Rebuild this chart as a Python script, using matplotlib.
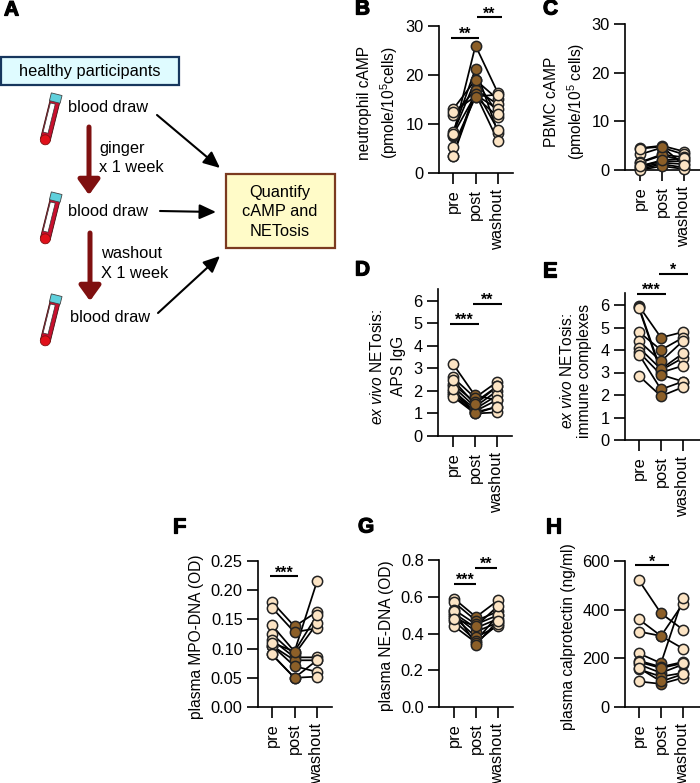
import matplotlib
matplotlib.use("Agg")
import matplotlib.pyplot as plt
import matplotlib.patheffects as pe
from matplotlib.patches import Rectangle, Circle
from matplotlib.transforms import Affine2D

plt.rcParams['font.family'] = ['Liberation Sans', 'DejaVu Sans']
plt.rcParams['mathtext.fontset'] = 'custom'
plt.rcParams['mathtext.rm'] = 'Liberation Sans'
plt.rcParams['mathtext.it'] = 'Liberation Sans:italic'
plt.rcParams['mathtext.default'] = 'regular'

W, H = 700, 783
conditions = ['pre', 'post', 'washout']

# paired values, one entry per participant
b_pre = [7.5, 8.3, 13.0, 11.8, 7.8, 5.3, 3.5, 3.4, 12.5, 8.0]
b_post = [26.0, 21.3, 19.0, 17.0, 16.0, 15.5, 17.0, 16.2, 15.6, 19.0]
b_wash = [16.3, 8.2, 15.0, 14.0, 13.0, 11.5, 8.8, 6.5, 16.0, 12.0]

c_pre = [4.5, 3.2, 1.6, 1.5, 0.8, 0.5, 0.2, 0.0, 0.8, 4.4]
c_post = [5.0, 4.6, 3.2, 3.0, 1.8, 1.5, 1.2, 0.8, 2.0, 4.8]
c_wash = [3.8, 3.2, 2.6, 2.0, 1.8, 1.2, 0.5, 0.2, 2.4, 1.0]

d_pre = [3.2, 2.6, 2.3, 2.2, 2.0, 1.9, 1.8, 1.75, 2.1, 2.5]
d_post = [1.8, 1.7, 1.5, 1.3, 1.2, 1.1, 1.05, 1.0, 1.0, 1.4]
d_wash = [1.6, 2.4, 2.2, 2.0, 1.8, 1.6, 1.3, 1.05, 1.3, 2.2]

e_pre = [5.95, 5.9, 5.85, 4.8, 4.4, 4.1, 3.9, 3.8, 2.85]
e_post = [4.55, 3.1, 3.0, 4.0, 3.5, 3.15, 2.9, 2.25, 1.95]
e_wash = [4.8, 3.65, 3.3, 4.55, 4.4, 3.85, 2.6, 2.6, 2.35]

f_pre = [0.18, 0.17, 0.14, 0.125, 0.115, 0.105, 0.105, 0.09, 0.09, 0.11]
f_post = [0.138, 0.128, 0.095, 0.09, 0.085, 0.08, 0.07, 0.05, 0.05, 0.095]
f_wash = [0.163, 0.135, 0.215, 0.143, 0.085, 0.08, 0.06, 0.052, 0.08, 0.157]

g_pre = [0.59, 0.57, 0.53, 0.51, 0.50, 0.49, 0.47, 0.44, 0.52, 0.48]
g_post = [0.49, 0.47, 0.45, 0.43, 0.41, 0.38, 0.36, 0.35, 0.34, 0.44]
g_wash = [0.58, 0.52, 0.50, 0.48, 0.46, 0.44, 0.50, 0.45, 0.47, 0.55]

h_pre = [520, 360, 310, 220, 190, 175, 155, 105, 185, 160]
h_post = [385, 292, 292, 180, 165, 140, 125, 95, 160, 105]
h_wash = [318, 425, 240, 450, 185, 175, 140, 120, 180, 135]

# data, ticks, stars, pixel box (left, y at 0, y at tick max, first tick x, last tick x, right, axis top)
panels = [
    dict(data=(b_pre, b_post, b_wash), ticks=[0, 10, 20, 30], fmt='{:.0f}',
         sig=[(451, 479, 27.6, '**'), (477, 502, 31.8, '**')],
         box=(439, 173, 26, 453, 498, 513, 26)),
    dict(data=(c_pre, c_post, c_wash), ticks=[0, 10, 20, 30], fmt='{:.0f}',
         sig=[],
         box=(625, 170, 24, 640, 684, 700, 24)),
    dict(data=(d_pre, d_post, d_wash), ticks=[0, 1, 2, 3, 4, 5, 6], fmt='{:.0f}',
         sig=[(450, 479, 4.98, '***'), (473, 502, 5.87, '**')],
         box=(438, 436, 301, 453, 497, 512, 289)),
    dict(data=(e_pre, e_post, e_wash), ticks=[0, 1, 2, 3, 4, 5, 6], fmt='{:.0f}',
         sig=[(637, 666, 6.5, '***'), (659, 688, 7.4, '*')],
         box=(625, 440, 305, 639, 683, 700, 293)),
    dict(data=(f_pre, f_post, f_wash), ticks=[0, 0.05, 0.10, 0.15, 0.20, 0.25], fmt='{:.2f}',
         sig=[(270, 298, 0.224, '***')],
         box=(258, 707, 561, 272, 317, 332, 561)),
    dict(data=(g_pre, g_post, g_wash), ticks=[0, 0.2, 0.4, 0.6, 0.8], fmt='{:.1f}',
         sig=[(454, 476, 0.67, '***'), (475, 497, 0.757, '**')],
         box=(439, 707, 560, 454, 498, 513, 560)),
    dict(data=(h_pre, h_post, h_wash), ticks=[0, 200, 400, 600], fmt='{:.0f}',
         sig=[(635, 669, 583, '*')],
         box=(625, 707, 561, 639, 683, 700, 561)),
]

PALE = '#FCE4C4'
BROWN = '#8C5F28'

fig = plt.figure(figsize=(W / 100, H / 100), dpi=100)

# full-figure axes in pixel coordinates for the schematic and the labels
bg = fig.add_axes([0, 0, 1, 1], zorder=0)
bg.set_xlim(0, W)
bg.set_ylim(H, 0)
bg.axis('off')


def draw_tube(x, y):
    tr = Affine2D().rotate_deg(14).translate(x, y) + bg.transData
    bg.add_patch(Rectangle((-5, 0), 10, 40, fc='#C8102E', ec='#401010', lw=0.6, transform=tr))
    bg.add_patch(Rectangle((-4, 3), 5, 30, fc='white', ec='#333333', lw=0.5, transform=tr))
    bg.add_patch(Circle((0, 40), 5, fc='#E0101A', ec='#801010', lw=0.6, transform=tr))
    bg.add_patch(Rectangle((-5.5, -7), 11, 8, fc='#5FD0DC', ec='#444444', lw=0.6, transform=tr))


def block_arrow(x0, y0, x1, y1, color, width, head):
    bg.annotate('', xy=(x1, y1), xytext=(x0, y0),
                arrowprops=dict(arrowstyle=f'-|>,head_length={head[0]},head_width={head[1]}',
                                color=color, lw=width, shrinkA=0, shrinkB=0))


bg.add_patch(Rectangle((1, 57), 178, 28, fc='#DFFBFF', ec='#17365D', lw=1.6))
bg.text(90, 71.5, 'healthy participants', ha='center', va='center', fontsize=11.8)
bg.add_patch(Rectangle((226, 174), 109, 74, fc='#FFFBC8', ec='#7B3A20', lw=1.6))
for yy, line in zip([192, 211, 231], ['Quantify', 'cAMP and', 'NETosis']):
    bg.text(280, yy, line, ha='center', va='center', fontsize=11.8)

for x, y, tx, ty in [(55, 101, 68, 108), (55, 200, 68, 212), (55, 302, 70, 317)]:
    draw_tube(x, y)
    bg.text(tx, ty, 'blood draw', ha='left', va='center', fontsize=11.8)

for x, y, s in [(99, 148, 'ginger'), (99, 168, 'x 1 week'), (101, 254, 'washout'), (101, 274, 'X 1 week')]:
    bg.text(x, y, s, ha='left', va='center', fontsize=11.8)

block_arrow(89, 127, 89, 195, '#7F1010', 3.6, (0.9, 0.65))
block_arrow(90, 233, 90, 301, '#7F1010', 3.6, (0.9, 0.65))
block_arrow(157, 115, 220, 168, 'black', 1.5, (1.0, 0.45))
block_arrow(160, 211, 216, 212, 'black', 1.5, (1.0, 0.45))
block_arrow(158, 313, 220, 256, 'black', 1.5, (1.0, 0.45))

for p in panels:
    left, y0, ytop, x_first, x_last, right, axis_top = p['box']
    tick_max = p['ticks'][-1]
    per_px = tick_max / (y0 - ytop)
    ax = fig.add_axes([left / W, 1 - y0 / H, (right - left) / W, (y0 - axis_top) / H], zorder=1)
    ax.patch.set_alpha(0)
    step = (x_last - x_first) / 2
    ax.set_xlim((left - x_first) / step, (right - x_first) / step)
    ax.set_ylim(0, (y0 - axis_top) * per_px)

    pre, post, wash = p['data']
    for a, b, c in zip(pre, post, wash):
        ax.plot([0, 1, 2], [a, b, c], color='black', lw=1.25, clip_on=False, zorder=3)
    ax.plot([0] * len(pre), pre, 'o', ms=7.4, mfc=PALE, mec='#222222', mew=1.1, clip_on=False, zorder=4)
    ax.plot([1] * len(post), post, 'o', ms=7.4, mfc=BROWN, mec='#222222', mew=1.1, clip_on=False, zorder=4)
    ax.plot([2] * len(wash), wash, 'o', ms=7.4, mfc=PALE, mec='#222222', mew=1.1, clip_on=False, zorder=4)

    ax.set_xticks([0, 1, 2])
    ax.set_xticklabels(conditions, rotation=90, fontsize=11.8)
    ax.set_yticks(p['ticks'])
    ax.set_yticklabels([p['fmt'].format(t) for t in p['ticks']], fontsize=11.8)
    ax.tick_params(axis='x', length=8, width=1.2, pad=3.5)
    ax.tick_params(axis='y', length=8, width=1.2, pad=3)
    for side in ['top', 'right']:
        ax.spines[side].set_visible(False)
    for side in ['left', 'bottom']:
        ax.spines[side].set_linewidth(1.2)

    for x0, x1, yy, stars in p['sig']:
        d0 = (x0 - x_first) / step
        d1 = (x1 - x_first) / step
        ax.plot([d0, d1], [yy, yy], color='black', lw=1.5, clip_on=False, solid_capstyle='butt')
        ax.annotate(stars, xy=((d0 + d1) / 2, yy), xytext=(0, -3), textcoords='offset points',
                    ha='center', va='bottom', fontsize=11.5, fontweight='bold', annotation_clip=False)

# y axis labels: text, x, y
ylabels = [
    ('neutrophil cAMP', 365, 103), ('(pmole/10$^{5}$cells)', 389, 103),
    ('PBMC cAMP', 552, 102), ('(pmole/10$^{5}$ cells)', 576, 101),
    ('$\\mathit{ex\\ vivo}$ NETosis:', 377, 367), ('APS IgG', 398, 366),
    ('$\\mathit{ex\\ vivo}$ NETosis:', 567, 371), ('immune complexes', 585, 371),
    ('plasma MPO-DNA (OD)', 197, 637),
    ('plasma NE-DNA (OD)', 387, 636),
    ('plasma calprotectin (ng/ml)', 568, 637),
]
for s, x, y in ylabels:
    bg.text(x, y, s, rotation=90, ha='center', va='center', fontsize=11.2)

panel_letters = [('A', 4, 10), ('B', 355, 9), ('C', 543, 9), ('D', 355, 270), ('E', 543, 271),
                 ('F', 173, 527), ('G', 358, 527), ('H', 546, 527)]
for s, x, y in panel_letters:
    bg.text(x, y, s, ha='left', va='center', fontsize=15, fontweight='bold',
            path_effects=[pe.withStroke(linewidth=0.9, foreground='black')])

fig.savefig('out.png', dpi=100)
